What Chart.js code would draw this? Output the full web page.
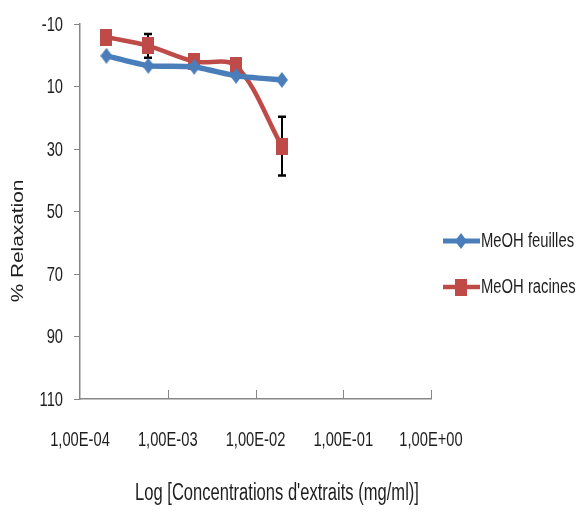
<!DOCTYPE html>
<html><head><meta charset="utf-8">
<script src="https://cdn.jsdelivr.net/npm/chart.js@4"></script>
<style>html,body{margin:0;padding:0;background:#fff}#wrap{width:578px;height:512px}</style>
</head><body><div id="wrap"><canvas id="c" width="578" height="512"></canvas></div>
<script>
const concentrations = [2e-4, 6e-4, 2e-3, 6e-3, 2e-2];
const feuilles = [0.2, 3.4, 3.7, 6.6, 7.9];
const racines = [-5.8, -3.0, 2.0, 3.4, 29.1];
const feuillesErr = [0, 0, 0, 0, 0];
const racinesErr = [0, 3.8, 0, 0, 9.4];
const xTicks = [1e-4, 1e-3, 1e-2, 1e-1, 1];
const yTicks = [-10, 10, 30, 50, 70, 90, 110];
const seriesNames = ['MeOH feuilles', 'MeOH racines'];
const xTitle = "Log [Concentrations d'extraits (mg/ml)]";
const yTitle = "% Relaxation";

const BLUE = '#4A7EBB', RED = '#BE4B48', AXIS = '#868686', TXT = '#1e1e1e';
const FONT = '"Liberation Sans", Arial, sans-serif';

function fmtExp(v) {
  const e = Math.round(Math.log10(v));
  const sign = e < 0 ? '-' : '+';
  const a = Math.abs(e);
  return '1,00E' + sign + (a < 10 ? '0' : '') + a;
}

function sText(ctx, str, x, y, size, k, align, baseline) {
  ctx.save();
  ctx.translate(x, y); ctx.scale(k, 1);
  ctx.font = size + 'px ' + FONT;
  ctx.fillStyle = TXT;
  ctx.textAlign = align; ctx.textBaseline = baseline;
  ctx.fillText(str, 0, 0);
  ctx.restore();
}

function makeMarker(shape, color, w, h) {
  const c = document.createElement('canvas');
  c.width = w; c.height = h;
  const g = c.getContext('2d');
  g.fillStyle = color;
  g.beginPath();
  if (shape === 'diamond') {
    g.moveTo(w / 2, 0); g.lineTo(w, h / 2); g.lineTo(w / 2, h); g.lineTo(0, h / 2);
    g.closePath();
  } else {
    g.rect(0, 0, w, h);
  }
  g.fill();
  return c;
}
const blueMarker = makeMarker('diamond', BLUE, 12, 16);
const redMarker = makeMarker('square', RED, 12, 17);

const errs = [feuillesErr, racinesErr];

const extras = {
  id: 'extras',
  beforeDatasetsDraw(chart) {
    const ctx = chart.ctx, xs = chart.scales.x, ys = chart.scales.y;
    ctx.save();
    ctx.strokeStyle = '#000';
    chart.data.datasets.forEach((ds, di) => {
      ds.data.forEach((p, i) => {
        const e = errs[di][i];
        if (!e) return;
        const px = Math.round(xs.getPixelForValue(p.x));
        const y1 = ys.getPixelForValue(p.y - e), y2 = ys.getPixelForValue(p.y + e);
        ctx.lineWidth = 2;
        ctx.beginPath(); ctx.moveTo(px, y1); ctx.lineTo(px, y2); ctx.stroke();
        ctx.lineWidth = 2.5;
        ctx.beginPath();
        ctx.moveTo(px - 4, y1); ctx.lineTo(px + 4, y1);
        ctx.moveTo(px - 4, y2); ctx.lineTo(px + 4, y2);
        ctx.stroke();
      });
    });
    ctx.restore();
  },
  afterDraw(chart) {
    const ctx = chart.ctx, xs = chart.scales.x, ys = chart.scales.y;
    const ca = chart.chartArea;
    ctx.save();
    // x tick marks pointing inward
    ctx.strokeStyle = AXIS; ctx.lineWidth = 1;
    xTicks.slice(1).forEach(v => {
      const px = Math.round(xs.getPixelForValue(v)) + 0.5;
      ctx.beginPath(); ctx.moveTo(px, ca.bottom); ctx.lineTo(px, ca.bottom - 9); ctx.stroke();
    });
    // tick labels
    yTicks.forEach(v => sText(ctx, String(v), 63, ys.getPixelForValue(v) + 1, 21, 0.7, 'right', 'middle'));
    xTicks.forEach(v => sText(ctx, fmtExp(v), xs.getPixelForValue(v), 440, 21, 0.7, 'center', 'middle'));
    // axis titles
    sText(ctx, xTitle, 277, 500, 23, 0.72, 'center', 'alphabetic');
    ctx.save();
    ctx.translate(19, 241); ctx.rotate(-Math.PI / 2); ctx.scale(1.3, 1);
    ctx.font = '16px ' + FONT; ctx.fillStyle = TXT;
    ctx.textAlign = 'center'; ctx.textBaseline = 'middle';
    ctx.fillText(yTitle, 0, 0);
    ctx.restore();
    // legend
    const items = [
      { name: seriesNames[0], color: BLUE, y: 241, marker: blueMarker, lw: 5 },
      { name: seriesNames[1], color: RED, y: 287, marker: redMarker, lw: 4.5 }
    ];
    items.forEach(it => {
      ctx.strokeStyle = it.color; ctx.lineWidth = it.lw;
      ctx.beginPath(); ctx.moveTo(443, it.y); ctx.lineTo(480, it.y); ctx.stroke();
      ctx.drawImage(it.marker, 461 - it.marker.width / 2, it.y - it.marker.height / 2);
      sText(ctx, it.name, 481, it.y + 1, 19.5, 0.76, 'left', 'middle');
    });
    ctx.restore();
  }
};

new Chart(document.getElementById('c'), {
  type: 'line',
  data: {
    datasets: [
      {
        label: seriesNames[0],
        data: concentrations.map((c, i) => ({ x: c, y: feuilles[i] })),
        borderColor: BLUE, backgroundColor: BLUE, borderWidth: 5.5,
        pointStyle: blueMarker, pointRadius: 7, pointHoverRadius: 7, pointBorderWidth: 0,
        tension: 0.12
      },
      {
        label: seriesNames[1],
        data: concentrations.map((c, i) => ({ x: c, y: racines[i] })),
        borderColor: RED, backgroundColor: RED, borderWidth: 4.5,
        pointStyle: redMarker, pointRadius: 9, pointHoverRadius: 9, pointBorderWidth: 0,
        tension: 0.32
      }
    ]
  },
  options: {
    responsive: false, animation: false, devicePixelRatio: 1,
    layout: { padding: { left: 0, right: 147, top: 24, bottom: 0 } },
    plugins: { legend: { display: false }, tooltip: { enabled: false } },
    scales: {
      x: {
        type: 'logarithmic', min: 1e-4, max: 1,
        afterBuildTicks: s => { s.ticks = xTicks.map(v => ({ value: v })); },
        afterFit: s => { s.height = 113; },
        grid: { drawOnChartArea: false, drawTicks: false },
        border: { color: AXIS, width: 1.5 },
        ticks: { display: false, callback: v => fmtExp(v) }
      },
      y: {
        type: 'linear', reverse: true, min: -10, max: 110,
        afterBuildTicks: s => { s.ticks = yTicks.map(v => ({ value: v })); },
        afterFit: s => { s.width = 80; },
        grid: { drawOnChartArea: false, drawTicks: true, tickLength: 6, color: AXIS },
        border: { color: AXIS, width: 1.5 },
        ticks: { display: false }
      }
    }
  },
  plugins: [extras]
});
</script>
</body></html>
